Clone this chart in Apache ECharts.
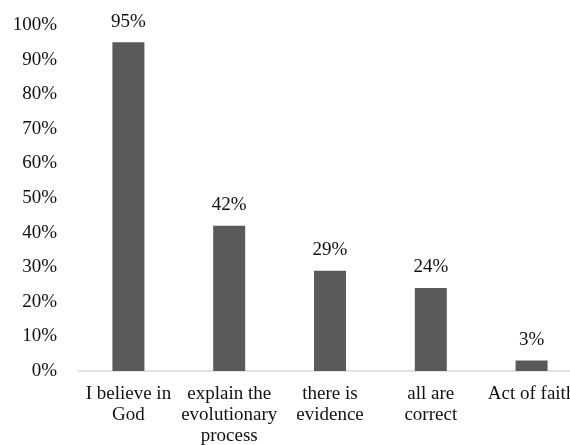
<!DOCTYPE html>
<html>
<head>
<meta charset="utf-8">
<script src="https://cdn.jsdelivr.net/npm/echarts@6/dist/echarts.min.js"></script>
<style>
  html, body { margin: 0; padding: 0; background: #fff; }
  #chart { width: 570px; height: 445px; }
</style>
</head>
<body>
<div id="chart"></div>
<script>
// Survey answers and share of respondents (%)
const categories = [
  'I believe in\nGod',
  'explain the\nevolutionary\nprocess',
  'there is\nevidence',
  'all are\ncorrect',
  'Act of faith'
];
const shares = [95, 42, 29, 24, 3];

const serif = "'Liberation Serif', 'Times New Roman', serif";
const chart = echarts.init(document.getElementById('chart'), null, { renderer: 'canvas' });

chart.setOption({
  animation: false,
  backgroundColor: '#ffffff',
  grid: {
    left: 78, top: 25, bottom: 74, width: 504,
    containLabel: false,
    outerBoundsMode: 'none'
  },
  xAxis: {
    type: 'category',
    data: categories,
    axisLine: { show: true, lineStyle: { color: '#d9d9d9', width: 1.5 } },
    axisTick: { show: false },
    axisLabel: {
      interval: 0,
      margin: 13,
      color: '#111',
      fontFamily: serif,
      fontSize: 19,
      lineHeight: 21
    }
  },
  yAxis: {
    type: 'value',
    min: 0,
    max: 100,
    interval: 10,
    axisLine: { show: false },
    axisTick: { show: false },
    splitLine: { show: false },
    axisLabel: {
      margin: 21,
      color: '#111',
      fontFamily: serif,
      fontSize: 19,
      formatter: '{value}%'
    }
  },
  series: [{
    type: 'bar',
    data: shares,
    barWidth: 32,
    itemStyle: { color: '#5a5a5a' },
    label: {
      show: true,
      position: 'top',
      distance: 11,
      color: '#111',
      fontFamily: serif,
      fontSize: 19,
      formatter: '{c}%'
    }
  }]
});
</script>
</body>
</html>
